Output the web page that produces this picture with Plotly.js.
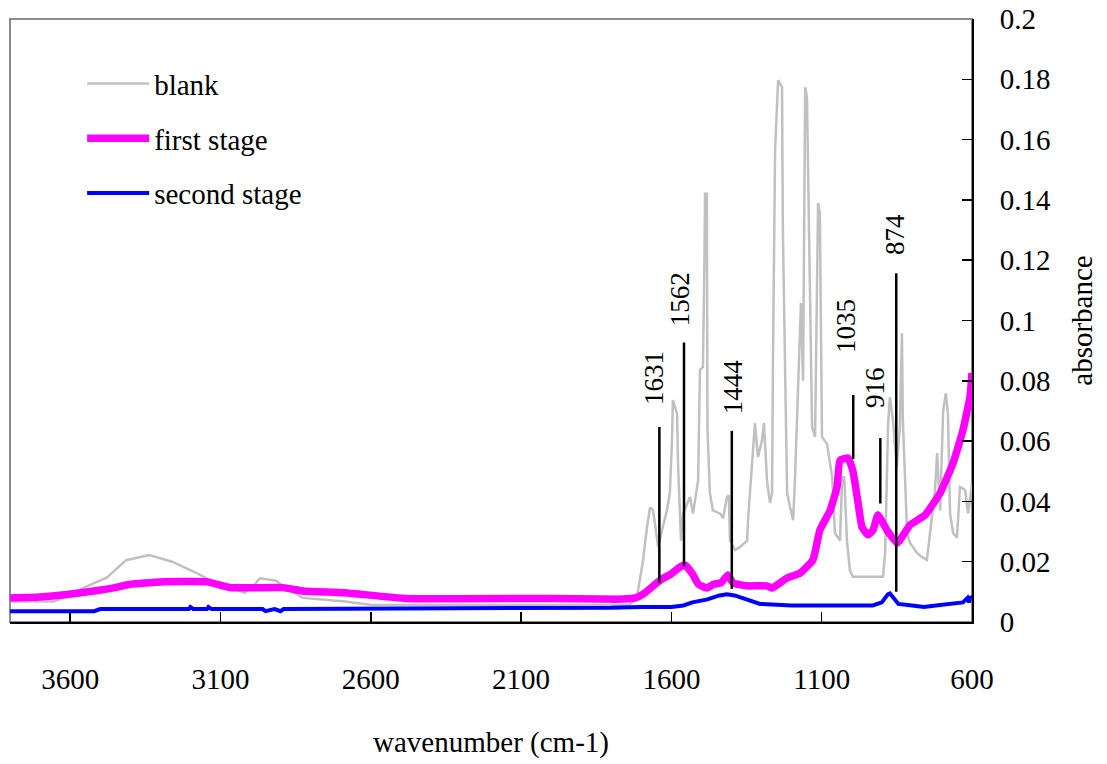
<!DOCTYPE html>
<html><head><meta charset="utf-8">
<script src="https://cdn.plot.ly/plotly-3.0.1.min.js"></script>
<style>html,body{margin:0;padding:0;background:#fff}</style>
</head><body><div id="chart" style="width:1107px;height:764px"></div>
<script>
// ---- data (wavenumber cm-1, absorbance) ----
var blankX = [3800,3700,3655,3600,3554,3477,3414,3337,3261,3184,3132,3019,2990,2969,2915,2892,2826,2686,2650,2600,2200,1900,1740,1715,1704,1694,1681,1671,1661,1654,1644,1631,1615,1605,1598,1595,1581,1578,1568,1561,1538,1528,1511,1505,1495,1490,1488,1482,1480,1472,1462,1438,1428,1415,1409,1405,1388,1372,1348,1345,1328,1322,1312,1299,1292,1282,1272,1265,1262,1255,1245,1232,1229,1222,1215,1205,1195,1189,1179,1169,1162,1155,1149,1139,1132,1122,1112,1106,1099,1082,1065,1056,1039,1032,1025,1016,1006,996,896,889,879,873,863,850,840,833,830,816,806,783,767,750,740,723,716,706,696,687,680,673,663,650,640,623,613,600];
var blankY = [0.0068,0.0068,0.0068,0.009,0.0114,0.0148,0.0205,0.0222,0.020,0.0165,0.0137,0.0097,0.012,0.0145,0.0137,0.012,0.008,0.0068,0.0063,0.0057,0.0056,0.0056,0.0057,0.008,0.0139,0.0206,0.0315,0.038,0.037,0.0315,0.0249,0.0305,0.037,0.0428,0.060,0.0736,0.069,0.0527,0.027,0.036,0.0415,0.036,0.047,0.0836,0.0846,0.120,0.142,0.142,0.0647,0.0428,0.037,0.036,0.0345,0.0415,0.042,0.027,0.0239,0.0249,0.027,0.0338,0.056,0.066,0.0547,0.060,0.066,0.047,0.0395,0.0428,0.0869,0.1565,0.1797,0.1774,0.129,0.0869,0.0428,0.038,0.0338,0.047,0.077,0.1058,0.080,0.1774,0.174,0.1035,0.0647,0.0614,0.139,0.1356,0.0614,0.059,0.048,0.0295,0.027,0.048,0.048,0.027,0.017,0.015,0.015,0.0229,0.066,0.0746,0.067,0.0514,0.0647,0.0958,0.067,0.0295,0.0262,0.0229,0.0216,0.0206,0.0295,0.0438,0.056,0.037,0.070,0.0759,0.069,0.036,0.0295,0.028,0.0448,0.0438,0.036,0.046];

var firstX = [3800,3700,3610,3520,3451,3401,3300,3145,3068,2892,2826,2686,2483,2000,1837,1760,1720,1690,1660,1631,1600,1575,1555,1530,1510,1482,1460,1435,1412,1395,1350,1283,1265,1215,1172,1129,1106,1072,1049,1039,1012,996,979,966,946,929,913,883,849,806,756,706,663,630,607,600];
var firstY = [0.008,0.0083,0.0091,0.0103,0.0114,0.0125,0.0133,0.0133,0.0114,0.0114,0.0103,0.0097,0.0078,0.0078,0.0076,0.0076,0.008,0.0095,0.012,0.0143,0.016,0.018,0.0189,0.016,0.0125,0.0113,0.0125,0.013,0.0156,0.013,0.012,0.012,0.0113,0.0146,0.0162,0.0206,0.0305,0.037,0.0448,0.0537,0.0544,0.050,0.0395,0.0315,0.0289,0.0305,0.0355,0.0305,0.0262,0.0322,0.0355,0.0428,0.0527,0.0637,0.0746,0.0826];

var secondX = [3800,3700,3600,3520,3500,3300,3205,3200,3190,3145,3140,3130,2960,2950,2920,2900,2890,2500,2000,1800,1700,1600,1560,1530,1480,1440,1415,1390,1350,1320,1305,1200,1000,930,900,880,873,860,845,800,760,720,680,650,630,615,610,605,600];
var secondY = [0.0036,0.0036,0.0037,0.0036,0.0043,0.0043,0.0043,0.005,0.0043,0.0043,0.005,0.0043,0.0043,0.0036,0.0043,0.0036,0.0043,0.0045,0.0045,0.0047,0.005,0.005,0.0055,0.0065,0.0075,0.0088,0.0092,0.0088,0.0075,0.0065,0.006,0.0055,0.0055,0.0055,0.0065,0.0092,0.0095,0.0078,0.006,0.0055,0.005,0.0055,0.006,0.0062,0.0065,0.008,0.0065,0.0085,0.0078];

// peak markers: label, line x, line bottom, line top, label x, label y
var peakLabels = ["1631","1562","1444","1035","916","874"];
var peakLineX   = [1640,1558,1399,995,905,852];
var peakLineLo  = [0.0129,0.0184,0.011,0.0541,0.0393,0.010];
var peakLineHi  = [0.0647,0.0927,0.0634,0.0753,0.061,0.1157];
var peakTextX   = [1658,1571,1395,1019,923,856];
var peakTextY   = [0.0809,0.1071,0.0779,0.0982,0.0779,0.1284];

var xTicks = [3600,3100,2600,2100,1600,1100,600];
var yTicks = [0,0.02,0.04,0.06,0.08,0.1,0.12,0.14,0.16,0.18,0.2];
var yTickText = ["0","0.02","0.04","0.06","0.08","0.1","0.12","0.14","0.16","0.18","0.2"];

var FONT = "'Liberation Serif', 'DejaVu Serif', serif";

var traces = [
  {x: blankX, y: blankY, type: 'scatter', mode: 'lines', name: 'blank',
   line: {color: '#c0c0c0', width: 2.5}, legendgroup: 'a'},
  {x: firstX, y: firstY, type: 'scatter', mode: 'lines', name: 'first stage',
   line: {color: '#ff00ff', width: 7.5, shape: 'spline', smoothing: 0.4}, legendgroup: 'b'},
  {x: secondX, y: secondY, type: 'scatter', mode: 'lines', name: 'second stage',
   line: {color: '#0000ff', width: 4}, legendgroup: 'c'}
];

var shapes = [{type: 'rect', xref: 'paper', yref: 'paper', x0: 0, x1: 1, y0: 0, y1: 1,
  line: {color: '#8c8c8c', width: 2}, layer: 'below'}];
var annotations = [];
for (var i = 0; i < peakLabels.length; i++) {
  shapes.push({type: 'line', xref: 'x', yref: 'y', x0: peakLineX[i], x1: peakLineX[i],
    y0: peakLineLo[i], y1: peakLineHi[i], line: {color: '#000', width: 2.5}});
  annotations.push({xref: 'x', yref: 'y', x: peakTextX[i], y: peakTextY[i], text: peakLabels[i],
    showarrow: false, textangle: -90, xanchor: 'center', yanchor: 'middle',
    font: {family: FONT, size: 27, color: '#000'}});
}

var layout = {
  width: 1107, height: 764,
  margin: {l: 10, r: 135, t: 19, b: 142},
  paper_bgcolor: '#fff', plot_bgcolor: '#fff',
  showlegend: true,
  legend: {x: 0.075, y: 0.935, xanchor: 'left', yanchor: 'top', bgcolor: 'rgba(0,0,0,0)',
    font: {family: FONT, size: 29, color: '#000'}, itemwidth: 62, traceorder: 'grouped',
    tracegroupgap: 14},
  xaxis: {range: [3800, 600], tickvals: xTicks, ticktext: xTicks.map(String),
    ticks: 'inside', ticklen: 10, tickwidth: 1.5, tickcolor: '#000',
    showline: true, linecolor: '#000', linewidth: 2, showgrid: false, zeroline: false,
    ticklabelstandoff: 30,
    tickfont: {family: FONT, size: 29, color: '#000'},
    title: {text: 'wavenumber (cm-1)', font: {family: FONT, size: 29, color: '#000'}, standoff: 38}},
  yaxis: {range: [0, 0.2], side: 'right', tickvals: yTicks, ticktext: yTickText,
    ticks: 'inside', ticklen: 10, tickwidth: 1.5, tickcolor: '#000',
    showline: true, linecolor: '#000', linewidth: 2, showgrid: false, zeroline: false,
    ticklabelstandoff: 20,
    tickfont: {family: FONT, size: 29, color: '#000'},
    title: {text: 'absorbance', font: {family: FONT, size: 29, color: '#000'}, standoff: 22}},
  shapes: shapes,
  annotations: annotations
};

Plotly.newPlot('chart', traces, layout, {displayModeBar: false, staticPlot: true});
</script></body></html>
